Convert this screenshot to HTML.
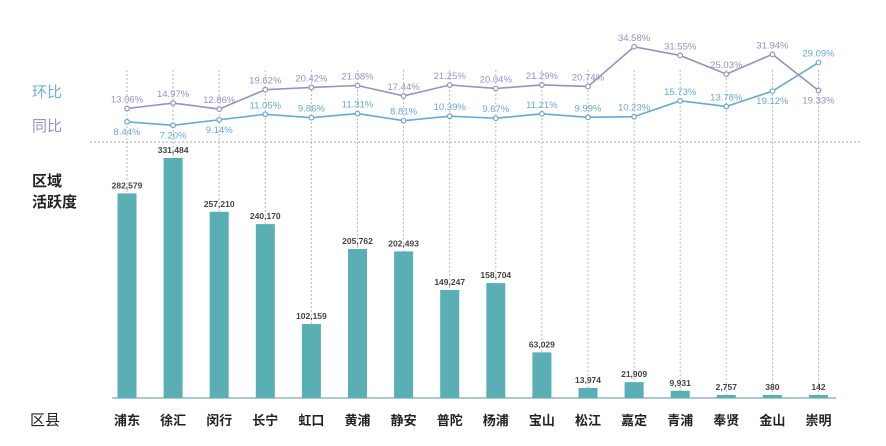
<!DOCTYPE html>
<html><head><meta charset="utf-8">
<style>
body{margin:0;background:#fff;}
svg{display:block;font-family:"Liberation Sans","Noto Sans CJK SC",sans-serif;}
</style></head>
<body>
<svg id="c" width="886" height="446" viewBox="0 0 886 446">
<g>
<text x="32" y="97" font-size="15" fill="#6fb0d6">环比</text>
<text x="32" y="131" font-size="15" fill="#9b90c2">同比</text>
<text x="32" y="186" font-size="15" font-weight="bold" fill="#222">区域</text>
<text x="32" y="207" font-size="15" font-weight="bold" fill="#222">活跃度</text>
<text x="30" y="425" font-size="15" fill="#222">区县</text>
</g>
<line x1="90" y1="142" x2="862" y2="142" stroke="#aaa" stroke-dasharray="2,2"/>
<line x1="112" y1="398" x2="836" y2="398" stroke="#7aa9b0" stroke-width="1.2"/>
<g id="grid"></g><g id="bars"></g><g id="lines"></g><g id="cats"></g>
</svg>
<script>
const categories=["浦东","徐汇","闵行","长宁","虹口","黄浦","静安","普陀","杨浦","宝山","松江","嘉定","青浦","奉贤","金山","崇明"];
const activity=[282579,331484,257210,240170,102159,205762,202493,149247,158704,63029,13974,21909,9931,2757,380,142];
const huanbi=[13.06,14.97,12.86,19.62,20.42,21.08,17.44,21.25,20.04,21.29,20.74,34.58,31.55,25.03,31.94,19.33];
const tongbi=[8.44,7.20,9.14,11.05,9.86,11.31,8.81,10.39,9.67,11.21,9.99,10.23,15.73,13.78,19.12,29.09];
const tongbiBelow=[1,1,1,0,0,0,0,0,0,0,0,0,0,0,1,0];
const huanbiBelow=[0,0,0,0,0,0,0,0,0,0,0,0,0,0,0,1];
const NS="http://www.w3.org/2000/svg";
function mk(p,t,a){const e=document.createElementNS(NS,t);for(const k in a)e.setAttribute(k,a[k]);p.appendChild(e);return e;}
const xs=i=>127+i*46.1;
const yb=v=>398-v*0.000724;
const yl=v=>146-v*2.87;
const grid=document.getElementById('grid'),bars=document.getElementById('bars'),lines=document.getElementById('lines'),cats=document.getElementById('cats');
categories.forEach((c,i)=>{
 const x=xs(i);
 let g=mk(grid,'line',{x1:x,y1:70,x2:x,y2:398,stroke:'#bbb','stroke-dasharray':'2,2'});
 
 
 const y=Math.min(yb(activity[i]),395);
 let r=mk(bars,'rect',{x:x-9.5,y:y,width:19,height:398-y,fill:'#5aafb4'});
 
 
 let t=mk(bars,'text',{x:x,y:y-5,'font-size':8.5,'font-weight':'bold',fill:'#444','text-anchor':'middle'});
 t.textContent=activity[i].toLocaleString('en-US');
 
 
 let ct=mk(cats,'text',{x:x,y:425,'font-size':13,'font-weight':'bold',fill:'#222','text-anchor':'middle'});
 ct.textContent=c;
 
 
});
function series(vals,color,below,name){
 let p=mk(lines,'polyline',{points:vals.map((v,i)=>xs(i)+','+yl(v)).join(' '),fill:'none',stroke:color,'stroke-width':1.6});
 
 
 vals.forEach((v,i)=>{
  let c=mk(lines,'circle',{cx:xs(i),cy:yl(v),r:2.3,fill:'#fff',stroke:color,'stroke-width':1.2});
  
  
  let t=mk(lines,'text',{x:xs(i),y:yl(v)+(below[i]?13:-6),'font-size':9.5,fill:color,'text-anchor':'middle'});
  t.textContent=v.toFixed(2)+'%';
  
  
 });
}
series(huanbi,'#9b90c2',huanbiBelow,'huanbi');
series(tongbi,'#6aa8d4',tongbiBelow,'tongbi');
</script>
</body></html>
